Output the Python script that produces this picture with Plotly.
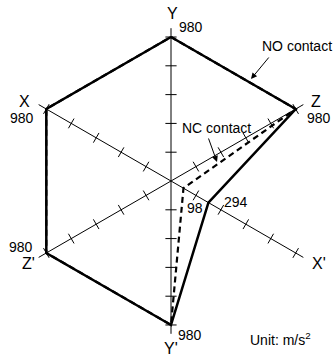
import plotly.graph_objects as go

# axis directions, in the order the polygon is drawn
axes_order = ["Y", "Z", "X'", "Y'", "Z'", "X"]
# acceleration limits (m/s2) for each direction
no_contact = [980, 980, 294, 980, 980, 980]
nc_contact = [980, 980, 98, 980, 980, 980]
tick_values = [196, 392, 588, 784, 980]

# counter-clockwise order of the spokes, starting at 30 deg
spoke_order = ["Z", "Y", "X", "Z'", "Y'", "X'"]

FONT = dict(family="Liberation Sans, Arial, sans-serif", size=14, color="black")
W, H = 335, 359

fig = go.Figure()

# short tick marks across every spoke
tick_theta, tick_r, tick_angle = [], [], []
for i, name in enumerate(spoke_order):
    for v in tick_values:
        tick_theta.append(name)
        tick_r.append(v)
        tick_angle.append(90 - (30 + 60 * i))
fig.add_trace(go.Scatterpolar(
    r=tick_r, theta=tick_theta, mode="markers",
    marker=dict(symbol="line-ew", size=8, angle=tick_angle,
                line=dict(color="black", width=1)),
    hoverinfo="skip"))

# closed polygons
fig.add_trace(go.Scatterpolar(
    r=nc_contact + nc_contact[:1], theta=axes_order + axes_order[:1],
    mode="lines", line=dict(color="black", width=2.2, dash="6px,4px"),
    name="NC contact"))
fig.add_trace(go.Scatterpolar(
    r=no_contact + no_contact[:1], theta=axes_order + axes_order[:1],
    mode="lines", line=dict(color="black", width=2.5),
    name="NO contact"))


def px(x, y):
    # pixel position -> paper fraction
    return x / W, 1 - y / H


labels = [
    ("Y", 172, 14, 16), ("980", 191, 27, 14),
    ("X", 24, 102, 16), ("980", 22, 118, 14),
    ("Z", 316, 102, 16), ("980", 319, 118, 14),
    ("980", 21, 247, 14), ("Z'", 28, 263, 16),
    ("X'", 319, 263, 16),
    ("980", 190, 335, 14), ("Y'", 171, 348, 16),
    ("98", 195, 208, 14), ("294", 236, 202, 14),
    ("NO contact", 297, 46, 14), ("NC contact", 216, 128, 14),
    ("Unit: m/s<sup>2</sup>", 280, 339, 14),
]
annotations = []
for text, x, y, size in labels:
    xp, yp = px(x, y)
    annotations.append(dict(x=xp, y=yp, xref="paper", yref="paper", text=text,
                            showarrow=False, font=dict(FONT, size=size),
                            xanchor="center", yanchor="middle"))

# pointer arrows
for hx, hy, tx, ty in [(251, 79, 270, 56), (217, 162, 208, 137)]:
    xp, yp = px(hx, hy)
    annotations.append(dict(x=xp, y=yp, xref="paper", yref="paper", text="",
                            showarrow=True, arrowhead=2, arrowsize=1.2,
                            arrowwidth=1, arrowcolor="black",
                            ax=tx - hx, ay=ty - hy))

x0, y0 = px(18.2, 333.8)
x1, y1 = px(323.8, 28.2)
fig.update_layout(
    width=W, height=H,
    margin=dict(l=0, r=0, t=0, b=0),
    paper_bgcolor="white",
    showlegend=False,
    annotations=annotations,
    polar=dict(
        domain=dict(x=[x0, x1], y=[y0, y1]),
        bgcolor="white",
        angularaxis=dict(type="category", categoryorder="array",
                         categoryarray=spoke_order, rotation=30,
                         direction="counterclockwise", showline=False,
                         showticklabels=False, ticks="",
                         gridcolor="black", gridwidth=1),
        radialaxis=dict(range=[0, 1040], showgrid=False, showline=False,
                        showticklabels=False, ticks=""),
    ),
)

# drop the default body margin so the figure fills the window exactly
fig.write_html("out.html", config={"displayModeBar": False},
               post_script="document.body.style.margin='0';"
                           "document.body.style.overflow='hidden';")
